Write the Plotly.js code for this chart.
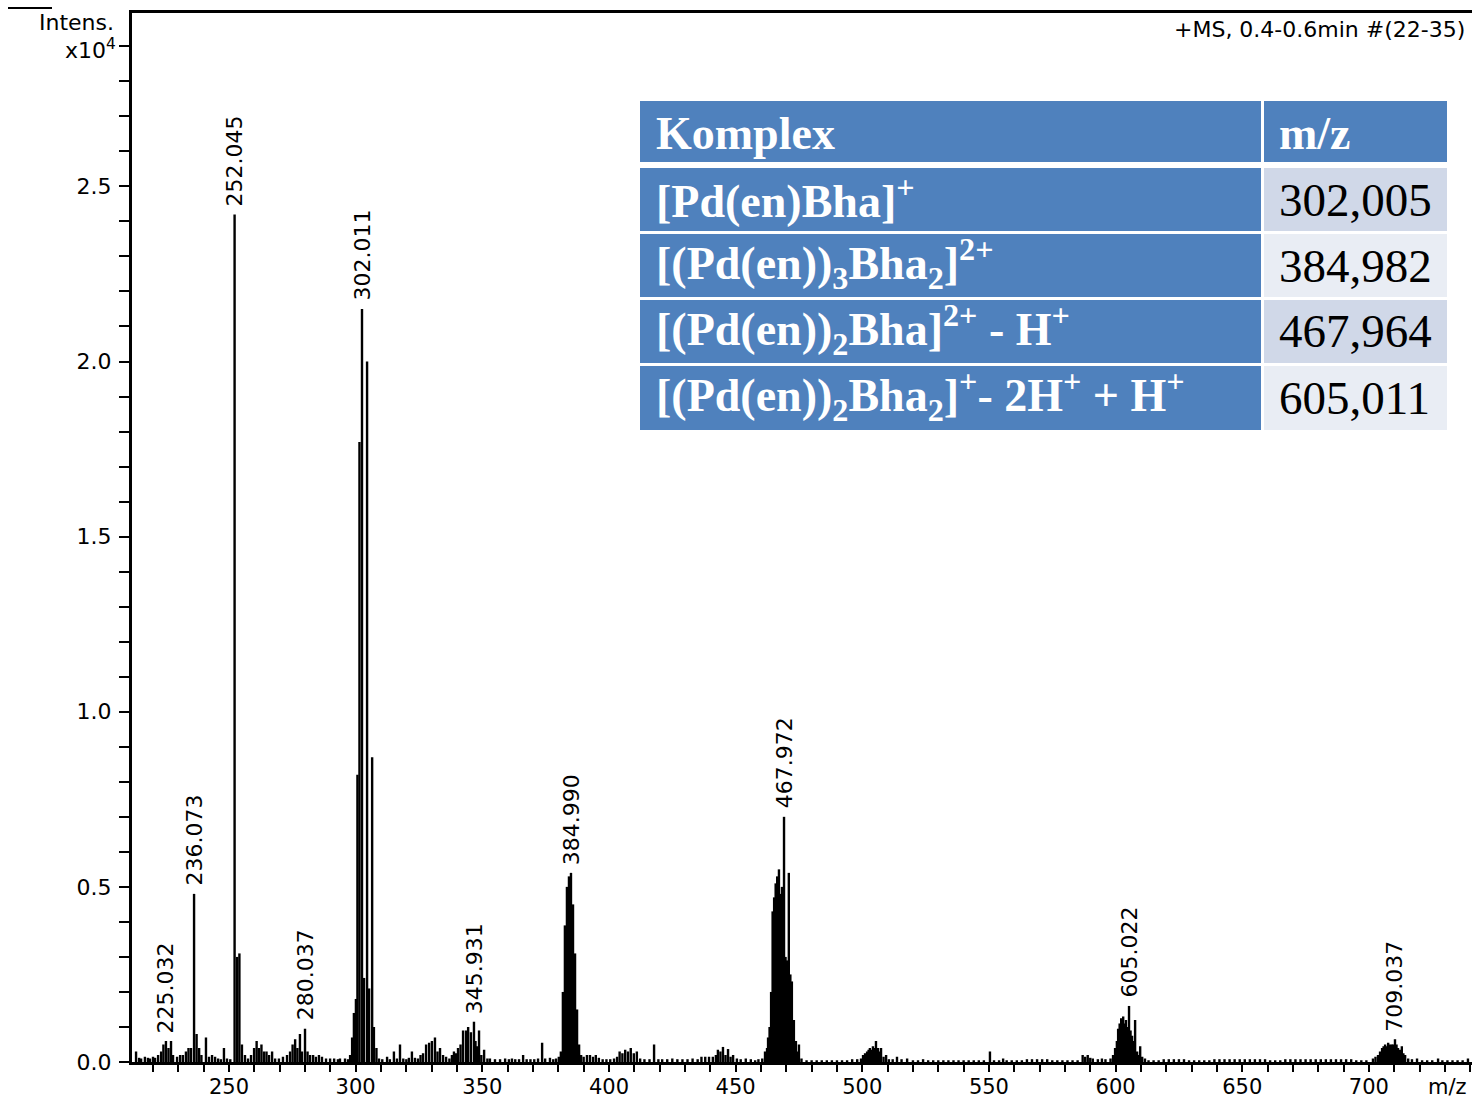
<!DOCTYPE html>
<html>
<head>
<meta charset="utf-8">
<script src="https://cdn.plot.ly/plotly-3.0.1.min.js"></script>
<style>html,body{margin:0;padding:0;background:#fff;}#chart{width:1472px;height:1101px;}</style>
</head>
<body>
<div id="chart"></div>
<script>
// ---- spectrum sticks: [m/z, intensity (x10^4)] ----
const spectrum = [
[213.3,0.03],[214.5,0.012],[215.3,0.01],[216.8,0.015],[218.0,0.012],[218.8,0.01],[220.0,0.015],[220.8,0.012],
[222.0,0.02],[223.2,0.03],[224.1,0.05],[225.1,0.06],[226.1,0.04],[227.1,0.06],[227.9,0.02],[229.5,0.015],
[230.7,0.02],[231.8,0.02],[233.0,0.03],[234.0,0.04],[235.0,0.04],[236.2,0.48],[237.2,0.08],[238.2,0.04],
[239.1,0.02],[240.9,0.07],[242.1,0.015],[243.3,0.02],[244.5,0.015],[245.7,0.01],[246.8,0.008],[248.0,0.04],
[249.2,0.01],[250.5,0.008],[252.2,2.42],[253.2,0.30],[254.1,0.31],[255.1,0.05],[256.3,0.02],[257.5,0.01],
[258.7,0.02],[259.9,0.04],[260.9,0.06],[261.8,0.04],[262.8,0.05],[263.8,0.03],[264.8,0.03],[265.8,0.02],
[267.0,0.03],[268.2,0.01],[269.7,0.01],[271.3,0.015],[272.9,0.02],[274.1,0.03],[275.1,0.05],[276.1,0.065],
[277.0,0.04],[278.0,0.08],[278.8,0.03],[280.0,0.095],[281.0,0.03],[282.0,0.02],[283.2,0.02],[284.3,0.015],
[285.5,0.02],[286.7,0.015],[288.3,0.01],[289.9,0.01],[291.5,0.01],[293.0,0.008],[293.8,0.01],[295.8,0.01],
[297.0,0.008],[297.8,0.02],[298.6,0.07],[299.3,0.14],[300.1,0.18],[300.7,0.82],[301.5,1.77],[302.5,2.15],
[303.3,0.24],[304.5,2.00],[305.3,0.21],[306.5,0.87],[307.2,0.10],[308.2,0.04],[309.2,0.01],[310.5,0.008],
[312.4,0.015],[313.5,0.008],[315.1,0.03],[316.3,0.01],[317.5,0.05],[318.8,0.01],[320.0,0.008],[321.0,0.012],
[322.2,0.03],[323.4,0.012],[324.6,0.01],[325.6,0.02],[326.6,0.025],[327.8,0.05],[329.0,0.055],[330.1,0.06],
[331.3,0.07],[332.3,0.03],[333.3,0.04],[334.5,0.02],[335.7,0.015],[337.0,0.01],[338.0,0.02],[338.8,0.03],
[339.6,0.025],[340.4,0.04],[341.4,0.05],[342.4,0.09],[343.6,0.09],[344.4,0.10],[345.5,0.085],[346.7,0.115],
[347.3,0.06],[347.9,0.045],[348.7,0.09],[349.6,0.02],[350.7,0.035],[352.0,0.01],[353.0,0.01],[355.0,0.008],
[357.0,0.008],[359.0,0.01],[360.5,0.008],[361.7,0.01],[363.0,0.008],[364.5,0.008],[366.1,0.02],[367.5,0.008],
[369.0,0.008],[370.5,0.008],[372.0,0.01],[373.6,0.055],[374.8,0.01],[376.7,0.012],[378.0,0.008],[379.1,0.01],
[380.2,0.015],[381.0,0.03],[381.8,0.20],[382.6,0.39],[383.4,0.50],[384.2,0.53],[385.0,0.54],[385.8,0.45],
[386.6,0.31],[387.4,0.15],[388.2,0.05],[389.0,0.02],[390.0,0.015],[391.3,0.02],[392.5,0.02],[393.7,0.015],
[394.8,0.02],[396.0,0.012],[397.5,0.008],[399.0,0.008],[400.5,0.008],[402.0,0.01],[403.2,0.015],[404.2,0.03],
[405.3,0.025],[406.4,0.035],[407.5,0.03],[408.6,0.04],[409.8,0.025],[411.0,0.03],[412.3,0.01],[414.0,0.008],
[416.0,0.008],[417.8,0.05],[419.5,0.008],[421.0,0.008],[423.0,0.008],[425.0,0.01],[427.0,0.008],[429.0,0.008],
[431.0,0.008],[433.0,0.01],[435.0,0.008],[436.5,0.015],[438.0,0.015],[439.5,0.015],[441.0,0.015],[442.2,0.02],
[443.0,0.035],[444.0,0.03],[445.0,0.043],[446.0,0.02],[447.0,0.037],[448.0,0.015],[449.0,0.02],[450.5,0.01],
[452.0,0.008],[454.0,0.01],[456.0,0.008],[457.7,0.005],[459.0,0.008],[460.5,0.01],[461.6,0.03],[462.4,0.04],
[462.8,0.07],[463.4,0.10],[464.0,0.20],[464.6,0.43],[465.2,0.47],[465.8,0.51],[466.4,0.53],[467.1,0.55],
[467.7,0.48],[468.3,0.50],[469.1,0.70],[469.7,0.30],[470.3,0.29],[471.0,0.54],[471.6,0.25],[472.2,0.23],
[473.0,0.12],[473.8,0.06],[474.4,0.03],[475.0,0.05],[476.0,0.01],[478.0,0.005],[480.0,0.005],[482.0,0.005],
[484.0,0.005],[486.0,0.005],[488.0,0.005],[490.0,0.005],[492.0,0.005],[494.0,0.005],[496.0,0.008],[498.0,0.008],
[499.5,0.01],[500.3,0.02],[501.1,0.025],[501.9,0.03],[502.5,0.035],[503.0,0.04],[503.6,0.035],[504.2,0.045],
[504.8,0.04],[505.4,0.06],[506.2,0.04],[506.8,0.03],[507.4,0.04],[508.4,0.015],[509.4,0.02],[510.5,0.008],
[512.0,0.008],[513.7,0.015],[515.5,0.008],[517.7,0.01],[520.0,0.005],[522.0,0.005],[524.0,0.008],[526.0,0.005],
[528.0,0.005],[530.0,0.005],[532.0,0.005],[534.0,0.005],[536.0,0.005],[538.0,0.005],[540.0,0.005],[542.0,0.005],
[544.0,0.005],[546.0,0.005],[548.0,0.005],[550.4,0.03],[552.0,0.005],[554.0,0.005],[555.6,0.01],[557.0,0.005],
[559.0,0.005],[561.0,0.005],[563.0,0.005],[565.0,0.008],[567.0,0.008],[569.0,0.008],[571.0,0.008],[573.0,0.008],
[575.0,0.005],[577.0,0.005],[579.0,0.005],[581.0,0.005],[583.0,0.005],[585.0,0.005],[587.0,0.02],[588.0,0.015],
[589.0,0.02],[590.0,0.012],[591.0,0.01],[593.0,0.008],[594.6,0.01],[596.0,0.008],[598.0,0.01],[599.0,0.02],
[599.8,0.04],[600.5,0.06],[601.0,0.095],[601.6,0.11],[602.2,0.125],[603.0,0.13],[603.6,0.11],[604.1,0.12],
[604.7,0.10],[605.3,0.16],[605.9,0.09],[606.5,0.075],[607.1,0.06],[607.7,0.12],[608.5,0.03],[609.1,0.02],
[609.7,0.045],[610.5,0.015],[611.6,0.01],[613.0,0.005],[615.0,0.005],[617.0,0.005],[619.0,0.008],[621.0,0.008],
[623.0,0.008],[625.0,0.008],[627.0,0.008],[629.0,0.005],[631.0,0.005],[633.0,0.005],[635.0,0.005],[637.0,0.005],
[639.0,0.008],[641.0,0.008],[643.0,0.008],[645.0,0.008],[647.0,0.008],[649.0,0.008],[651.0,0.008],[653.0,0.008],
[655.0,0.008],[657.0,0.008],[659.0,0.008],[661.0,0.005],[663.0,0.005],[665.0,0.005],[667.0,0.008],[669.0,0.008],
[671.0,0.008],[673.0,0.008],[675.0,0.008],[677.0,0.008],[679.0,0.008],[681.0,0.008],[683.0,0.008],[685.0,0.008],
[687.0,0.008],[689.0,0.008],[691.0,0.008],[693.0,0.008],[695.0,0.005],[697.0,0.005],[699.0,0.005],[701.6,0.01],
[702.6,0.015],[703.6,0.02],[704.4,0.03],[705.2,0.04],[705.8,0.045],[706.4,0.05],[707.0,0.045],[707.6,0.055],
[708.4,0.05],[709.1,0.05],[709.7,0.05],[710.3,0.065],[710.9,0.05],[711.5,0.04],[712.2,0.035],[713.0,0.045],
[713.6,0.025],[714.3,0.02],[715.5,0.01],[717.0,0.008],[719.0,0.01],[721.0,0.005],[723.0,0.005],[725.0,0.005],
[727.3,0.01],[729.0,0.005],[731.0,0.005],[733.0,0.005],[735.0,0.005],[737.0,0.005],[739.1,0.01]
];

// ---- peak labels ----
const labelMz   = [225.1, 236.2, 252.2, 280.0, 302.5, 346.7, 385.0, 469.1, 605.3, 710.3];
const labelText = ["225.032","236.073","252.045","280.037","302.011","345.931","384.990","467.972","605.022","709.037"];

// ---- inset table ----
const tableHeader = ["Komplex", "m/z"];
const tableComplex = [
  "[Pd(en)Bha]<sup>+</sup>",
  "[(Pd(en))<sub>3</sub>Bha<sub>2</sub>]<sup>2+</sup>",
  "[(Pd(en))<sub>2</sub>Bha]<sup>2+</sup> - H<sup>+</sup>",
  "[(Pd(en))<sub>2</sub>Bha<sub>2</sub>]<sup>+</sup>- 2H<sup>+</sup> + H<sup>+</sup>"
];
const tableMz = ["302,005", "384,982", "467,964", "605,011"];

// ---- axis ticks ----
const yTickVals = [0, 0.5, 1.0, 1.5, 2.0, 2.5];
const yTickText = ["0.0", "0.5", "1.0", "1.5", "2.0", "2.5"];
const xTickVals = [250, 300, 350, 400, 450, 500, 550, 600, 650, 700];

// build stick trace
const sx = [], sy = [];
spectrum.forEach(p => { sx.push(p[0], p[0], null); sy.push(0, p[1], null); });

const trace = {
  x: sx, y: sy, type: 'scatter', mode: 'lines',
  line: {color: '#000000', width: 2.4}, hoverinfo: 'skip', showlegend: false
};

// pixel -> paper helpers (plot area: x 132..1472, y 13..1062)
const PX = p => (p - 132) / 1340;
const PY = p => (1062 - p) / 1049;

const axFont = {family: 'DejaVu Sans, Arial, sans-serif', size: 22, color: '#000'};
const xFont = {family: 'DejaVu Sans, Arial, sans-serif', size: 21, color: '#000'};
const annotations = [];
const shapes = [];

// peak label annotations
labelMz.forEach((m, i) => {
  const pk = spectrum.find(p => p[0] === m);
  annotations.push({
    x: m, y: pk ? pk[1] : 0, xref: 'x', yref: 'y', text: labelText[i],
    showarrow: false, textangle: -90, xanchor: 'center', yanchor: 'bottom', yshift: 6,
    font: axFont
  });
});

// texts around axes
annotations.push({x: PX(116), y: PY(23), xref: 'paper', yref: 'paper', text: 'Intens.',
  showarrow: false, xanchor: 'right', yanchor: 'middle', font: axFont});
annotations.push({x: PX(118), y: PY(49), xref: 'paper', yref: 'paper', text: 'x10<sup>4</sup>',
  showarrow: false, xanchor: 'right', yanchor: 'middle', font: axFont});
annotations.push({x: PX(1469), y: PY(1087), xref: 'paper', yref: 'paper', text: 'm/z',
  showarrow: false, xanchor: 'right', yanchor: 'middle', font: xFont});
annotations.push({x: PX(1467), y: PY(30), xref: 'paper', yref: 'paper', text: '+MS, 0.4-0.6min #(22-35)',
  showarrow: false, xanchor: 'right', yanchor: 'middle', font: axFont});
shapes.push({type: 'line', xref: 'paper', yref: 'paper', x0: PX(8), x1: PX(52), y0: PY(8), y1: PY(8),
  line: {color: '#000', width: 2}});

// table geometry (pixels)
const colX = [[640, 1261], [1264, 1447]];
const rowY = [[101, 162], [168, 231], [234, 297], [300, 363], [366, 430]];
const blue = '#4F81BD';
const light = ['#D0D8E8', '#E9EDF4', '#D0D8E8', '#E9EDF4'];
const serifB = {family: 'Liberation Serif, Times New Roman, serif', size: 46, color: '#ffffff'};
const serifN = {family: 'Liberation Serif, Times New Roman, serif', size: 47, color: '#000000'};

rowY.forEach((r, ri) => {
  colX.forEach((c, ci) => {
    let fill = blue;
    if (ri > 0 && ci === 1) fill = light[ri - 1];
    shapes.push({type: 'rect', xref: 'paper', yref: 'paper', layer: 'above',
      x0: PX(c[0]), x1: PX(c[1]), y0: PY(r[1]), y1: PY(r[0]),
      fillcolor: fill, line: {width: 0}});
  });
});
// header texts
annotations.push({x: PX(654), y: PY(133), xref: 'paper', yref: 'paper', text: '<b>' + tableHeader[0] + '</b>',
  showarrow: false, xanchor: 'left', yanchor: 'middle', font: serifB});
annotations.push({x: PX(1277), y: PY(133), xref: 'paper', yref: 'paper', text: '<b>' + tableHeader[1] + '</b>',
  showarrow: false, xanchor: 'left', yanchor: 'middle', font: serifB});
tableComplex.forEach((t, i) => {
  const r = rowY[i + 1];
  const cy = (r[0] + r[1]) / 2;
  annotations.push({x: PX(654), y: PY(cy - 2), xref: 'paper', yref: 'paper', text: '<b>' + t + '</b>',
    showarrow: false, xanchor: 'left', yanchor: 'middle', font: serifB});
  annotations.push({x: PX(1277), y: PY(cy), xref: 'paper', yref: 'paper', text: tableMz[i],
    showarrow: false, xanchor: 'left', yanchor: 'middle', font: serifN});
});

const layout = {
  width: 1472, height: 1101,
  margin: {l: 132, r: 0, t: 13, b: 39, pad: 0},
  paper_bgcolor: '#ffffff', plot_bgcolor: '#ffffff',
  showlegend: false,
  xaxis: {
    range: [211.7, 740.7], tickvals: xTickVals, ticktext: xTickVals.map(String),
    ticks: 'outside', ticklen: 7, tickwidth: 2, tickcolor: '#000',
    showline: true, linewidth: 3, linecolor: '#000', mirror: true,
    showgrid: false, zeroline: false, tickfont: xFont, ticklabelstandoff: -3,
    minor: {dtick: 10, tick0: 0, ticks: 'outside', ticklen: 7, tickwidth: 2, tickcolor: '#000', showgrid: false}
  },
  yaxis: {
    range: [0, 2.995], tickvals: yTickVals, ticktext: yTickText,
    ticks: 'outside', ticklen: 10, tickwidth: 2, tickcolor: '#000',
    showline: true, linewidth: 3, linecolor: '#000', mirror: false,
    showgrid: false, zeroline: false, tickfont: axFont, ticklabelstandoff: 3,
    minor: {dtick: 0.1, tick0: 0, ticks: 'outside', ticklen: 10, tickwidth: 2, tickcolor: '#000', showgrid: false}
  },
  annotations: annotations,
  shapes: shapes
};

Plotly.newPlot('chart', [trace], layout, {staticPlot: true, displayModeBar: false});
</script>
</body>
</html>
